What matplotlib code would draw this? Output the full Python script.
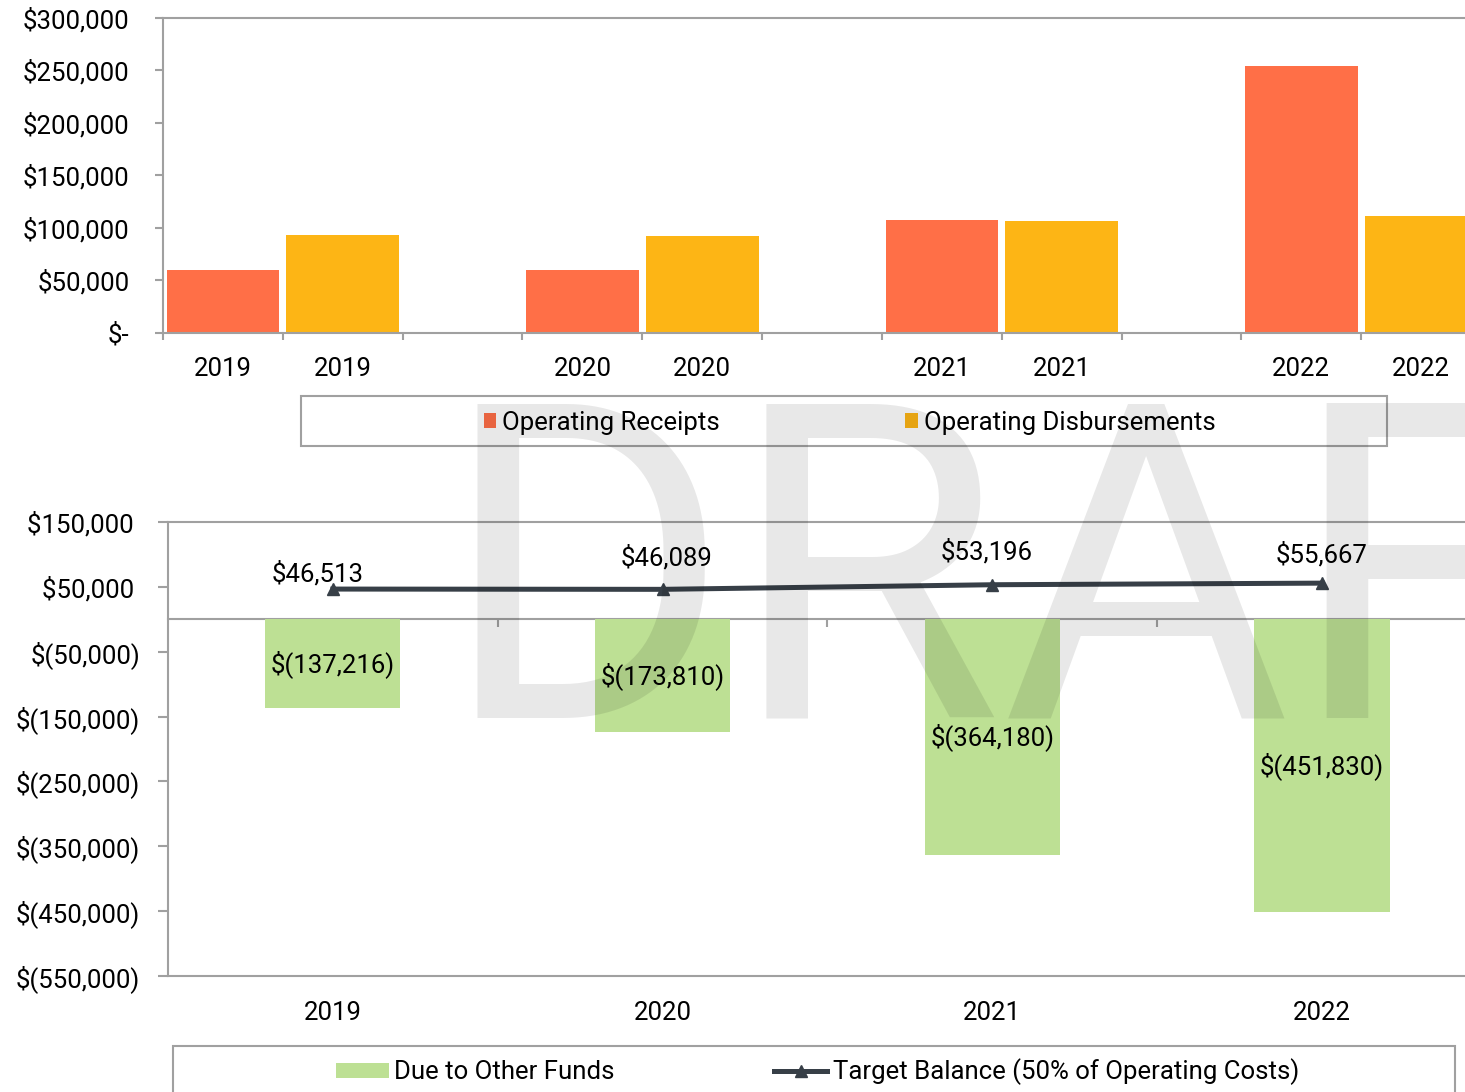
import matplotlib.pyplot as plt
from matplotlib.patches import Rectangle
import numpy as np

plt.rcParams['font.family'] = ['Roboto', 'DejaVu Sans']

years = ['2019', '2020', '2021', '2022']
receipts = [60000, 60000, 107800, 254400]
disbursements = [93026, 92178, 106392, 111334]
due_to_other_funds = [-137216, -173810, -364180, -451830]
target_balance = [46513, 46089, 53196, 55667]

top_ticks = [0, 50000, 100000, 150000, 200000, 250000, 300000]
bottom_ticks = [150000, 50000, -50000, -150000, -250000, -350000, -450000, -550000]

orange = '#FF6F47'
gold = '#FDB515'
green = '#BDE094'
dark = '#373F47'
axis_gray = '#A0A0A0'
fs = 18.5


def money(v):
    if v == 0:
        return '$-'
    if v < 0:
        return '$({:,.0f})'.format(-v)
    return '${:,.0f}'.format(v)


fig = plt.figure(figsize=(14.65, 10.92), dpi=100)

# ---- top chart: receipts vs disbursements
ax1 = fig.add_axes([0.11126, 0.6951, 0.8997, 0.2885])
n = len(years)
rec_x = np.arange(n) * 3
dis_x = rec_x + 1
b1 = ax1.bar(rec_x, receipts, width=0.94, color=orange, label='Operating Receipts')
b2 = ax1.bar(dis_x, disbursements, width=0.94, color=gold, label='Operating Disbursements')

ax1.set_xlim(-0.5, 3 * n - 1.5)
ax1.set_ylim(0, 300000)
ax1.set_yticks(top_ticks)
ax1.set_yticklabels([money(v) for v in top_ticks])
ax1.set_xticks(np.concatenate([rec_x, dis_x]))
ax1.set_xticklabels(years + years)
ax1.set_xticks(np.arange(-0.5, 3 * n - 1.5, 1), minor=True)
ax1.tick_params(axis='x', which='major', length=0, pad=17, labelsize=fs)
ax1.tick_params(axis='x', which='minor', length=5, width=1.5, color=axis_gray, direction='out')
ax1.tick_params(axis='y', length=6, width=1.5, color=axis_gray, pad=18, labelsize=fs)
for s in ['left', 'bottom', 'top']:
    ax1.spines[s].set_color(axis_gray)
    ax1.spines[s].set_linewidth(1.5)
ax1.spines['right'].set_visible(False)

fig.patches.append(Rectangle((0.2055, 0.5916), 0.7413, 0.0458, transform=fig.transFigure,
                             facecolor='none', edgecolor=axis_gray, linewidth=1.5))
fig.legend(handles=[b1, b2], loc='center', bbox_to_anchor=(0.5799, 0.6127), ncol=2,
           frameon=False, fontsize=fs, handlelength=0.5, handleheight=0.5,
           handletextpad=0.23, columnspacing=7.2)

# ---- bottom chart: due to other funds vs target balance
ax2 = fig.add_axes([0.11468, 0.10623, 0.9003, 0.4158])
x = np.arange(n)
bars = ax2.bar(x, due_to_other_funds, width=0.41, color=green, label='Due to Other Funds')
line, = ax2.plot(x, target_balance, color=dark, linewidth=3.6, marker='^', markersize=9,
                 label='Target Balance (50% of Operating Costs)')

for xi, v in zip(x, due_to_other_funds):
    ax2.text(xi, v / 2, money(v), ha='center', va='center', fontsize=fs)

label_offsets = [(-10.8, 11.2), (2.9, 22.9), (-4.3, 23.6), (-0.7, 20.3)]
for xi, v, off in zip(x, target_balance, label_offsets):
    ax2.annotate(money(v), (xi, v), xytext=off, textcoords='offset points',
                 ha='center', va='center', fontsize=fs)

ax2.set_xlim(-0.5, n - 0.5)
ax2.set_ylim(-550000, 150000)
ax2.set_yticks(bottom_ticks)
ax2.set_yticklabels([money(v) + (' ' if v > 0 else '') for v in bottom_ticks])
ax2.set_xticks(x)
ax2.set_xticklabels(years)
ax2.tick_params(axis='x', length=0, pad=18, labelsize=fs)
ax2.tick_params(axis='y', length=7, width=1.5, color=axis_gray, pad=13, labelsize=fs)
for s in ['left', 'bottom', 'top']:
    ax2.spines[s].set_color(axis_gray)
    ax2.spines[s].set_linewidth(1.5)
ax2.spines['right'].set_visible(False)

# category axis crossing at zero
zero_axis = ax2.secondary_xaxis(550000 / 700000)
zero_axis.set_xticks(np.arange(0.5, n - 0.5, 1))
zero_axis.set_xticklabels([])
zero_axis.tick_params(length=6, width=1.5, color=axis_gray, direction='in')
for s in zero_axis.spines.values():
    s.set_color(axis_gray)
    s.set_linewidth(1.5)

fig.patches.append(Rectangle((0.1181, -0.05), 0.8751, 0.0921, transform=fig.transFigure,
                             facecolor='none', edgecolor=axis_gray, linewidth=1.5))
fig.legend(handles=[bars, line], loc='center', bbox_to_anchor=(0.558, 0.0183), ncol=2,
           frameon=False, fontsize=fs, handlelength=2.05, handleheight=0.55,
           handletextpad=0.23, columnspacing=6.2)

# watermark
fig.text(0.301, 0.3434, 'DRAFT', fontsize=318, color='black', alpha=0.09,
         ha='left', va='baseline', zorder=10)

fig.savefig('out.png', dpi=100)
